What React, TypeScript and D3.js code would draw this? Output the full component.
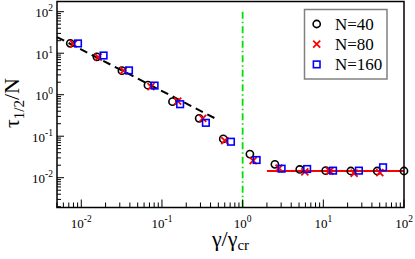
import * as d3 from 'd3';

// gamma / gamma_cr values and tau_1/2 / N for each system size
const xN40 = [0.0073, 0.0156, 0.0319, 0.067, 0.135, 0.289, 0.575, 1.23, 2.51, 5.1, 10.7, 21.9, 46.5, 100];
const yN40 = [17.3, 8.2, 3.8, 1.7, 0.68, 0.27, 0.086, 0.037, 0.021, 0.0158, 0.0148, 0.0145, 0.0145, 0.0145];

const xN80 = [0.008, 0.0162, 0.0334, 0.073, 0.157, 0.32, 0.6, 1.35, 2.82, 5.9, 12.0, 24.1, 50.1];
const yN80 = [16.7, 8.0, 3.8, 1.56, 0.7, 0.27, 0.078, 0.0257, 0.0169, 0.0139, 0.0145, 0.0128, 0.0132];

const xN160 = [0.0091, 0.0189, 0.039, 0.081, 0.168, 0.35, 0.716, 1.49, 3.04, 6.3, 13.2, 27.6, 55];
const yN160 = [17.2, 8.8, 3.85, 1.66, 0.59, 0.21, 0.0736, 0.0267, 0.0165, 0.0162, 0.0148, 0.0148, 0.0178];

// fits
const fitLowX = [0.005, 0.485];
const fitLowY = [24.5, 0.253];
const fitHighX = [2, 100];
const fitHighY = [0.0145, 0.0145];
const critX = [1, 1];
const critY = [100, 0.0019];

const xTickExps = ['-2', '-1', '0', '1', '2'];
const yTickExps = ['-2', '-1', '0', '1', '2'];

const legendLabels = ['N=40', 'N=80', 'N=160'];

const W = 415;
const H = 259;
const FONT = '"Liberation Serif", "Times New Roman", "DejaVu Serif", serif';

const x = d3.scaleLog().domain([0.005, 100]).range([57, 404]);
const y = d3.scaleLog().domain([Math.pow(10, -2.718), Math.pow(10, 2.246)]).range([207.5, 1.5]);

const minorTicks = (scale) => {
  const [a, b] = scale.domain();
  const out = [];
  for (let e = Math.floor(Math.log10(a)); e <= Math.ceil(Math.log10(b)); e++) {
    for (let m = 2; m <= 9; m++) {
      const v = m * Math.pow(10, e);
      if (v >= a && v <= b) out.push(v);
    }
  }
  return out;
};

const Circle = ({ cx, cy }) => (
  <circle cx={cx} cy={cy} r={3.6} fill="none" stroke="#000" strokeWidth={1.6} />
);
const Cross = ({ cx, cy }) => (
  <path
    d={`M${cx - 3.5},${cy - 3.5}L${cx + 3.5},${cy + 3.5}M${cx - 3.5},${cy + 3.5}L${cx + 3.5},${cy - 3.5}`}
    stroke="#ff0000"
    strokeWidth={1.8}
  />
);
const Square = ({ cx, cy }) => (
  <rect x={cx - 3.3} y={cy - 3.3} width={6.6} height={6.6} fill="none" stroke="#0000ff" strokeWidth={1.6} />
);

const App = () => {
  const line = d3
    .line()
    .x((d) => x(d[0]))
    .y((d) => y(d[1]));

  const [x0, x1] = x.range();
  const [y0, y1] = y.range();

  const legendRows = [Circle, Cross, Square];
  const txt = { fontFamily: FONT };

  return (
    <svg width={W} height={H} style={{ position: 'absolute', left: 0, top: 0, fontFamily: FONT }}>
      <rect width={W} height={H} fill="#fff" />

      {/* fit lines */}
      <path d={line(d3.zip(fitLowX, fitLowY))} stroke="#000" strokeWidth={2} strokeDasharray="8,5" fill="none" />
      <path d={line(d3.zip(fitHighX, fitHighY))} stroke="#ff0000" strokeWidth={1.8} fill="none" />
      <path d={line(d3.zip(critX, critY))} stroke="#00e000" strokeWidth={1.8} strokeDasharray="7,3,1.5,3" fill="none" />

      {/* data */}
      {xN40.map((v, i) => <Circle key={'a' + i} cx={x(v)} cy={y(yN40[i])} />)}
      {xN80.map((v, i) => <Cross key={'b' + i} cx={x(v)} cy={y(yN80[i])} />)}
      {xN160.map((v, i) => <Square key={'c' + i} cx={x(v)} cy={y(yN160[i])} />)}

      {/* frame */}
      <rect x={x0} y={y1} width={x1 - x0} height={y0 - y1} fill="none" stroke="#000" strokeWidth={1.5} />

      {/* x ticks */}
      {minorTicks(x).map((v, i) => (
        <line key={'xm' + i} x1={x(v)} x2={x(v)} y1={y0} y2={y0 - 5} stroke="#000" />
      ))}
      {xTickExps.map((e) => (
        <g key={'xt' + e}>
          <line x1={x(Math.pow(10, +e))} x2={x(Math.pow(10, +e))} y1={y0} y2={y0 - 8} stroke="#000" />
          <text x={x(Math.pow(10, +e))} y={228} textAnchor="middle" fontSize={13} style={txt}>
            10<tspan fontSize={9.5} dy={-6}>{e}</tspan>
          </text>
        </g>
      ))}

      {/* y ticks */}
      {minorTicks(y).map((v, i) => (
        <line key={'ym' + i} x1={x0} x2={x0 + 4} y1={y(v)} y2={y(v)} stroke="#000" />
      ))}
      {yTickExps.map((e) => (
        <g key={'yt' + e}>
          <line x1={x0} x2={x0 + 7} y1={y(Math.pow(10, +e))} y2={y(Math.pow(10, +e))} stroke="#000" />
          <text x={53} y={y(Math.pow(10, +e)) + 5.5} textAnchor="end" fontSize={13} style={txt}>
            10<tspan fontSize={9.5} dy={-6}>{e}</tspan>
          </text>
        </g>
      ))}

      {/* axis titles */}
      <text x={(x0 + x1) / 2} y={246} textAnchor="middle" fontSize={22} style={txt}>
        γ/γ<tspan fontSize={15} dy={4}>cr</tspan>
      </text>
      <text transform="translate(19,103) rotate(-90)" textAnchor="middle" fontSize={22} style={txt}>
        τ<tspan fontSize={15} dy={5}>1/2</tspan>
        <tspan dy={-5}>/N</tspan>
      </text>

      {/* legend */}
      <rect x={304.5} y={9.5} width={82.5} height={69.5} fill="#fff" stroke="#808080" strokeWidth={1.5} />
      {legendRows.map((M, i) => (
        <g key={'lg' + i}>
          <M cx={316.7} cy={24 + i * 20.2} />
          <text x={335} y={24 + i * 20.2 + 5.8} fontSize={17} style={txt}>
            {legendLabels[i]}
          </text>
        </g>
      ))}
    </svg>
  );
};

export default App;
